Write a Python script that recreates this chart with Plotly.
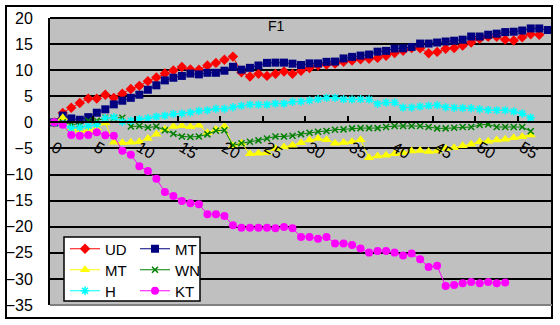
import plotly.graph_objects as go

# ---- data -------------------------------------------------------------
CATEGORIES = [str(i) for i in range(59)]
Y_TICKS = [-35, -30, -25, -20, -15, -10, -5, 0, 5, 10, 15, 20]

UD = [0, 1.8, 2.8, 3.7, 4.55, 4.55, 5.3, 4.7, 5.5, 6.4,
      7.0, 7.9, 8.6, 9.35, 9.95, 10.6, 10.15, 10.1, 10.9, 11.4,
      12.0, 12.6, 9.6, 8.8, 9.3, 8.9, 9.3, 9.75, 9.3, 9.9,
      10.4, 10.9, 11.1, 11.25, 11.6, 11.85, 12.1, 12.2, 12.35, 12.75,
      13.3, 13.7, 14.25, 14.2, 13.25, 13.5, 14.1, 14.25, 14.7, 15.3,
      16.0, 16.4, 16.4, 15.85, 15.7, 16.3, 16.9, 16.8]

MT_NAVY = [0, 1.3, 0.75, 0.5, 1.0, 1.85, 2.5, 3.45, 4.15, 4.7,
           5.3, 6.25, 7.1, 8.05, 8.55, 8.9, 9.35, 9.2, 9.5, 9.5,
           9.9, 10.65, 10.1, 10.45, 10.9, 11.4, 11.45, 11.45, 11.25, 11.0,
           11.3, 11.3, 11.6, 11.65, 12.25, 12.55, 12.8, 13.0, 13.55, 13.7,
           14.15, 14.2, 14.45, 15.1, 15.1, 15.3, 15.5, 15.65, 15.85, 16.45,
           16.45, 16.8, 17.0, 17.3, 17.37, 17.6, 18.0, 18.0, 17.7]

MT_YELLOW = [0, 0.9, -1.2, -1.5, -1.5, -1.1, -0.1, -3.8, -3.9, -3.8,
             -3.7, -3.1, -2.3, -1.3, -0.8, -0.65, -0.85, -0.55, -2.0, -1.35,
             -0.75, -4.5, -4.0, -6.0, -5.9, -5.8, -5.0, -4.7, -4.4, -3.9,
             -3.4, -3.1, -3.35, -4.0, -3.85, -3.7, -3.35, -6.8, -6.45, -6.3,
             -6.0, -5.8, -5.5, -5.4, -5.6, -5.5, -5.0, -4.85, -4.5, -4.2,
             -3.7, -3.6, -3.4, -3.25, -2.95, -2.75, -2.4]

WN = [0, 0.0, -0.4, -0.3, 0.3, 0.3, 0.9, 0.9, 0.9, -0.8,
      -0.7, -1.0, -0.8, -1.5, -2.2, -2.7, -2.8, -2.7, -2.3, -1.6,
      -1.5, -4.4, -4.0, -3.7, -3.45, -3.1, -2.7, -2.7, -2.55, -2.25,
      -2.0, -1.8, -1.65, -1.4, -1.34, -1.15, -1.1, -1.1, -1.1, -0.89,
      -0.7, -0.7, -0.7, -0.7, -0.89, -1.15, -1.15, -1.02, -0.89, -0.89,
      -0.51, -0.38, -0.89, -0.89, -0.89, -0.89, -1.7]

H = [0, -0.4, -1.1, -1.0, -0.7, -0.4, 0.8, 1.0, 0.1, 0.3,
     0.6, 0.8, 1.1, 1.3, 1.6, 1.7, 1.9, 2.2, 2.3, 2.6,
     2.6, 2.9, 3.2, 3.4, 3.4, 3.4, 3.6, 3.6, 3.95, 4.0,
     4.2, 4.45, 4.7, 4.7, 4.45, 4.4, 4.45, 4.4, 3.55, 3.8,
     3.8, 2.85, 2.85, 3.05, 3.2, 3.3, 2.9, 2.8, 2.75, 2.7,
     2.5, 2.35, 2.3, 2.3, 2.1, 1.7, 0.9]

KT = [0, -0.45, -2.4, -2.55, -2.4, -1.9, -2.45, -2.55, -5.45, -6.2,
      -8.4, -9.3, -10.8, -13.35, -14.1, -15.05, -15.5, -15.7, -17.6, -17.6,
      -17.95, -19.7, -20.2, -20.2, -20.2, -20.2, -20.3, -20.05, -20.3, -21.95,
      -21.95, -22.3, -21.95, -23.2, -23.2, -23.5, -24.15, -24.95, -24.65, -24.65,
      -24.95, -25.5, -25.15, -26.25, -27.7, -27.5, -31.35, -31.15, -30.85, -30.6,
      -30.85, -30.6, -30.85, -30.7]

# ---- page geometry (pixels) -------------------------------------------
W, HT = 560, 325
ML, MR, MTOP, MB = 50, 8, 18, 20
PW, PH = W - ML - MR, HT - MTOP - MB


def px(x):
    return (x - ML) / PW


def py(y):
    return (HT - MB - y) / PH


FONT = "Liberation Sans, Arial, sans-serif"

# name, values, colour, marker symbol, marker size, legend row
series = [
    ("UD", UD, "#FF0000", "diamond", 8, "legend"),
    ("MT", MT_NAVY, "#000080", "square", 8, "legend"),
    ("MT", MT_YELLOW, "#FFFF00", "triangle-up", 9, "legend2"),
    ("WN", WN, "#008000", "x-thin-open", 6, "legend2"),
    ("H", H, "#00FFFF", "asterisk-open", 7, "legend3"),
    ("KT", KT, "#FF00FF", "circle", 8, "legend3"),
]

fig = go.Figure()
for name, vals, color, symbol, size, leg in series:
    fig.add_trace(go.Scatter(
        x=CATEGORIES[:len(vals)], y=vals, name=name, mode="lines+markers",
        line=dict(color=color, width=1),
        marker=dict(symbol=symbol, size=size, color=color,
                    line=dict(color=color, width=1.5 if "open" in symbol else 0)),
        legend=leg, hoverinfo="skip",
    ))

shapes = [
    # outer chart frame
    dict(type="rect", xref="paper", yref="paper", layer="above",
         x0=px(6), x1=px(552), y0=py(318), y1=py(6),
         line=dict(color="black", width=2), fillcolor="rgba(0,0,0,0)"),
    # plot area bottom edge
    dict(type="line", xref="paper", yref="paper", layer="above",
         x0=0, x1=1, y0=0, y1=0, line=dict(color="#808080", width=2)),
    # plot area top edge
    dict(type="line", xref="paper", yref="paper", layer="above",
         x0=0, x1=1, y0=1, y1=1, line=dict(color="black", width=2)),
    # legend box
    dict(type="rect", xref="paper", yref="paper", layer="above",
         x0=px(64), x1=px(200), y0=py(301), y1=py(237),
         line=dict(color="black", width=1.5), fillcolor="white"),
]


def legend_row(y_center):
    return dict(
        bgcolor="rgba(0,0,0,0)", borderwidth=0, orientation="h",
        entrywidth=25, entrywidthmode="pixels",
        font=dict(family=FONT, size=15, color="black"),
        x=px(65), y=py(y_center), xanchor="left", yanchor="middle",
        itemclick=False, itemdoubleclick=False,
    )


fig.update_layout(
    width=W, height=HT,
    margin=dict(l=ML, r=MR, t=MTOP, b=MB, autoexpand=False),
    paper_bgcolor="white", plot_bgcolor="#C0C0C0",
    font=dict(family=FONT, color="black"),
    showlegend=True,
    legend=legend_row(249),
    legend2=legend_row(270),
    legend3=legend_row(291),
    shapes=shapes,
    annotations=[dict(text="F1", x=px(276), y=py(26), xref="paper", yref="paper",
                      showarrow=False, xanchor="center", yanchor="middle",
                      font=dict(family=FONT, size=14, color="black"))],
    xaxis=dict(
        type="category", categoryorder="array", categoryarray=CATEGORIES,
        range=[-0.5, 58.5], tickmode="linear", tick0=0, dtick=5,
        tickson="boundaries", ticks="inside", ticklen=5, tickwidth=1.5,
        tickcolor="black", showgrid=False, zeroline=False,
        showline=True, linecolor="black", linewidth=2,
        anchor="free", position=35 / 55, ticklabelstandoff=9,
        tickfont=dict(family=FONT, size=16, color="black"), fixedrange=True,
    ),
    yaxis=dict(
        range=[-35, 20], tickmode="array", tickvals=Y_TICKS,
        showgrid=True, gridcolor="black", gridwidth=2, zeroline=False,
        showline=True, linecolor="black", linewidth=2, ticks="",
        ticklabelstandoff=12,
        tickfont=dict(family=FONT, size=16, color="black"), fixedrange=True,
    ),
)

fig.write_html("out.html")
